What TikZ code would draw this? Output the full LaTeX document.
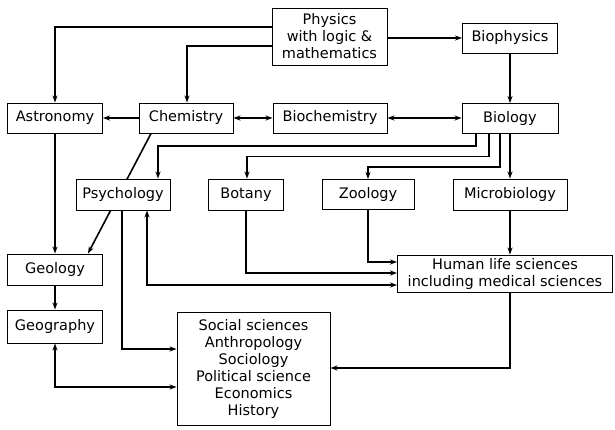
\documentclass[tikz,border=0pt]{standalone}
\usepackage{fontspec}
\setmainfont{DejaVu Sans}
\usetikzlibrary{arrows.meta,backgrounds}
\tikzset{
  box/.style={draw, line width=0.9pt, fill=white, inner sep=0pt, align=center,
    font=\fontsize{14.5}{17}\selectfont},
  conn/.style={line width=1.6pt},
  arr/.style={conn, -{Stealth[length=7pt,width=5pt]}},
  arrb/.style={conn, {Stealth[length=7pt,width=5pt]}-{Stealth[length=7pt,width=5pt]}}
}
\begin{document}
\begin{tikzpicture}[x=1pt,y=-1pt]
\useasboundingbox (0,0) rectangle (615,430);
% nodes
\node[box, minimum width=115pt, minimum height=57pt] (phys) at (329.5,36.5) {Physics\\with logic \&\\mathematics};
\node[box, minimum width=95pt, minimum height=30pt] (bioph) at (510,38) {Biophysics};
\node[box, minimum width=95pt, minimum height=30pt] (astro) at (55,118) {Astronomy};
\node[box, minimum width=94pt, minimum height=30pt] (chem) at (186,118) {Chemistry};
\node[box, minimum width=114pt, minimum height=30pt] (bioch) at (330,118) {Biochemistry};
\node[box, minimum width=96pt, minimum height=30pt] (bio) at (510,118.5) {Biology};
\node[box, minimum width=94pt, minimum height=31pt] (psych) at (123,194.5) {Psychology};
\node[box, minimum width=75pt, minimum height=31pt] (botany) at (246,194.5) {Botany};
\node[box, minimum width=92pt, minimum height=30pt] (zoo) at (368,194.5) {Zoology};
\node[box, minimum width=114pt, minimum height=31pt] (micro) at (510,194.5) {Microbiology};
\node[box, minimum width=95pt, minimum height=31pt] (geol) at (55,269.5) {Geology};
\node[box, minimum width=95pt, minimum height=33pt] (geog) at (55,326.5) {Geography};
\node[box, minimum width=215pt, minimum height=37pt] (human) at (505,273.5) {Human life sciences\\including medical sciences};
\node[box, minimum width=153pt, minimum height=113pt] (social) at (253.5,368.5) {Social sciences\\Anthropology\\Sociology\\Political science\\Economics\\History};
% connectors
\begin{scope}[on background layer]
\draw[arr] ([yshift=9.5pt]phys.west) -| (astro.north);
\draw[arr] ([yshift=-9.5pt]phys.west) -| ([xshift=1pt]chem.north);
\draw[arr] (phys.east |- bioph.west) -- (bioph.west);
\draw[arr] (bioph.south) -- (bioph.south |- bio.north);
\draw[arr] (chem.west) -- (astro.east);
\draw[arrb] (chem.east) -- (bioch.west);
\draw[arrb] (bioch.east) -- (bioch.east -| bio.west);
\draw[arr] ([xshift=-34pt]bio.south) -- ++(0,12) -| ([xshift=35pt]psych.north);
\draw[arr] ([xshift=-21pt]bio.south) -- ++(0,22.5) -| ([xshift=1pt]botany.north);
\draw[arr] ([xshift=-10pt]bio.south) -- ++(0,33) -| (zoo.north);
\draw[arr] (bio.south) -- (micro.north);
\draw[arr] ([xshift=12.5pt]chem.south west) -- ([xshift=-15pt]geol.north east);
\draw[arr] (astro.south) -- (geol.north);
\draw[arr] (geol.south) -- (geog.north);
\draw[arr] ([xshift=-1pt]psych.south) |- ([yshift=19.5pt]social.west);
\draw[arrb] ([xshift=24pt]psych.south) |- ([yshift=-11.5pt]human.west);
\draw[arr] (botany.south) |- ([yshift=0.5pt]human.west);
\draw[arr] (zoo.south) |- ([yshift=11.5pt]human.west);
\draw[arr] (micro.south) -- (micro.south |- human.north);
\draw[arr] ([xshift=5pt]human.south) |- ([yshift=0.5pt]social.east);
\draw[arrb] (geog.south) |- ([yshift=-18.5pt]social.west);
\end{scope}
\end{tikzpicture}
\end{document}
